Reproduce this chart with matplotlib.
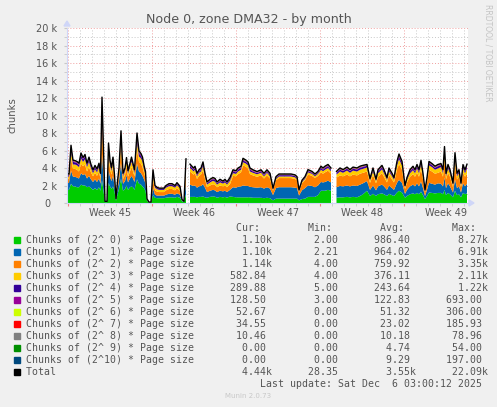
import numpy as np
import matplotlib.pyplot as plt
from matplotlib.patches import Rectangle

nan = np.nan

# hours since the start of the graph window
hours = [
    0, 4, 8, 12, 16, 20, 24, 28, 32, 36,
    40, 44, 48, 52, 56, 60, 64, 67, 70, 73,
    76, 80, 83, 86, 89, 92, 95, 98, 101, 104,
    108, 112, 116, 119, 122, 126, 129, 132, 135, 140,
    144, 148, 151, 154, 157, 160, 164, 168, 172, 176,
    180, 184, 188, 194, 198, 204, 210, 216, 220, 226,
    230, 234, 238, 241, 244, 246, 250, 253, 256, 260,
    264, 268, 272, 276, 280, 286, 292, 296, 300, 306,
    312, 316, 320, 326, 332, 338, 342, 348, 352, 358,
    362, 366, 372, 380, 388, 394, 400, 406, 412, 418,
    424, 432, 440, 448, 456, 460, 464, 470, 476, 482,
    490, 496, 502, 508, 512, 516, 522, 528, 531, 536,
    539, 546, 552, 560, 566, 572, 580, 586, 592, 600,
    606, 612, 618, 622, 630, 634, 640, 644, 650, 654,
    660, 664, 670, 673, 676, 680, 686, 692, 696, 700,
    704, 708, 712, 716, 720, 724, 730, 736, 742, 748,
    752, 755, 758, 762, 766, 772, 776, 780, 784, 788,
    792, 796, 800,
]

# chunk counts, in thousands
c0 = [
    1.5, 1.5, 2.2, 1.9, 1.9, 1.8, 1.8, 2.1, 2.0, 2.0,
    1.8, 1.9, 1.7, 1.5, 1.7, 1.5, 1.8, 1.4, 2.6, 1.4,
    0.1, 0.1, 2.3, 1.9, 1.6, 1.9, 1.3, 0.25, 1.0, 1.6,
    2.8, 1.4, 1.6, 2.0, 1.5, 1.8, 1.9, 1.8, 1.5, 2.7,
    2.2, 2.1, 1.9, 1.7, 1.4, 0.25, 0.05, 0.05, 0.9, 0.6,
    0.55, 0.55, 0.55, 0.55, 0.6, 0.65, 0.65, 0.6, 0.7, 0.6,
    0.2, 0.1, 1.0, nan, nan, 0.7, 0.7, 0.7, 0.7, 0.65,
    0.7, 0.7, 0.75, 0.65, 0.6, 0.7, 0.75, 0.72, 0.6, 0.7,
    0.65, 0.7, 0.6, 0.75, 0.7, 0.65, 0.65, 0.65, 0.65, 0.65,
    0.65, 0.65, 0.6, 0.6, 0.6, 0.55, 0.6, 0.55, 0.3, 0.5,
    0.5, 0.5, 0.5, 0.5, 0.5, 0.5, 0.3, 0.45, 0.5, 0.7,
    0.7, 0.7, 0.9, 1.4, 1.4, 1.4, 1.5, 1.4, nan, nan,
    0.6, 0.65, 0.65, 0.7, 0.65, 0.7, 0.65, 0.8, 1.0, 1.4,
    0.8, 1.05, 0.8, 1.0, 1.1, 1.0, 0.8, 1.05, 0.9, 0.8,
    1.2, 1.4, 1.2, 0.9, 0.6, 0.8, 1.0, 1.1, 1.0, 1.15,
    1.0, 1.3, 0.9, 0.45, 0.8, 1.2, 1.15, 1.1, 1.15, 1.15,
    1.0, 1.5, 0.9, 1.15, 1.0, 0.65, 1.4, 0.9, 1.0, 0.65,
    1.15, 1.0, 1.1,
]
c1 = [
    0.8, 0.8, 1.5, 1.1, 1.1, 1.1, 1.0, 1.3, 1.2, 1.3,
    1.0, 1.2, 1.0, 0.9, 1.0, 0.9, 1.0, 0.8, 3.0, 1.5,
    0.04, 0.04, 1.5, 1.1, 0.9, 1.2, 0.7, 0.1, 0.6, 0.9,
    1.8, 0.8, 0.9, 1.2, 0.85, 1.0, 1.2, 1.0, 0.9, 1.8,
    1.4, 1.3, 1.2, 1.0, 0.85, 0.1, 0.02, 0.02, 0.8, 0.35,
    0.3, 0.3, 0.3, 0.3, 0.35, 0.4, 0.4, 0.35, 0.4, 0.35,
    0.08, 0.04, 1.4, nan, nan, 1.4, 1.3, 1.25, 1.3, 1.1,
    1.2, 1.25, 1.4, 1.1, 0.65, 0.7, 0.75, 0.72, 0.65, 0.7,
    0.68, 0.7, 0.65, 0.75, 1.1, 1.1, 1.2, 1.25, 1.35, 1.3,
    1.3, 1.2, 1.2, 1.15, 1.2, 1.1, 1.2, 1.1, 0.6, 1.2,
    1.3, 1.3, 1.3, 1.3, 1.25, 1.2, 0.55, 1.0, 1.2, 1.3,
    1.25, 1.1, 1.1, 1.0, 0.95, 1.0, 1.05, 0.95, nan, nan,
    1.2, 1.3, 1.25, 1.3, 1.25, 1.3, 1.3, 1.3, 1.25, 1.1,
    0.7, 0.95, 0.65, 0.9, 1.0, 0.9, 0.7, 0.95, 0.8, 0.7,
    1.1, 1.25, 1.1, 0.8, 0.45, 0.7, 0.9, 1.0, 0.9, 1.1,
    0.9, 1.15, 0.8, 0.35, 0.7, 1.1, 1.05, 1.0, 1.1, 1.05,
    0.9, 1.4, 0.8, 1.1, 0.9, 0.55, 1.3, 0.8, 0.9, 0.55,
    1.1, 0.9, 1.1,
]
c2 = [
    0.5, 0.45, 1.4, 0.9, 0.9, 0.9, 0.8, 1.1, 1.0, 1.1,
    0.8, 1.0, 0.8, 0.65, 0.75, 0.7, 0.8, 0.55, 3.3, 1.6,
    0.02, 0.02, 1.4, 0.9, 0.75, 1.0, 0.55, 0.06, 0.4, 0.75,
    1.7, 0.55, 0.7, 1.0, 0.65, 0.8, 1.0, 0.8, 0.65, 1.6,
    1.1, 1.1, 1.0, 0.75, 0.65, 0.06, 0.01, 0.01, 1.0, 0.5,
    0.45, 0.4, 0.4, 0.4, 0.5, 0.55, 0.55, 0.5, 0.6, 0.45,
    0.05, 0.02, 1.5, nan, nan, 1.5, 1.4, 1.3, 1.4, 1.0,
    1.2, 1.3, 1.6, 1.0, 0.55, 0.6, 0.65, 0.62, 0.55, 0.6,
    0.57, 0.6, 0.55, 0.65, 1.3, 1.3, 1.45, 1.6, 2.3, 2.2,
    2.0, 1.45, 1.35, 1.25, 1.35, 1.15, 1.35, 1.15, 0.5, 0.9,
    1.05, 1.05, 1.05, 1.05, 1.0, 0.9, 0.4, 0.8, 0.9, 1.25,
    1.15, 1.05, 1.1, 1.1, 1.0, 1.1, 1.15, 1.0, nan, nan,
    1.1, 1.2, 1.15, 1.25, 1.15, 1.25, 1.2, 1.25, 1.2, 1.1,
    0.8, 1.2, 0.8, 1.1, 1.3, 1.1, 0.85, 1.2, 1.0, 0.85,
    1.5, 1.8, 1.5, 1.0, 0.55, 0.85, 1.1, 1.2, 1.1, 1.2,
    1.1, 1.4, 1.0, 0.4, 0.85, 1.5, 1.4, 1.25, 1.2, 1.4,
    1.1, 2.0, 1.0, 1.2, 1.1, 0.6, 1.8, 1.0, 1.1, 0.6,
    1.2, 1.1, 1.14,
]
c3 = [
    0.3, 0.25, 0.7, 0.5, 0.5, 0.5, 0.5, 0.6, 0.5, 0.6,
    0.5, 0.6, 0.45, 0.35, 0.4, 0.4, 0.5, 0.3, 0.8, 0.5,
    0.01, 0.01, 0.7, 0.5, 0.4, 0.6, 0.3, 0.03, 0.2, 0.4,
    0.8, 0.3, 0.4, 0.5, 0.35, 0.5, 0.6, 0.5, 0.35, 0.8,
    0.6, 0.6, 0.6, 0.4, 0.35, 0.03, 0.01, 0.01, 0.5, 0.3,
    0.28, 0.25, 0.25, 0.25, 0.3, 0.32, 0.32, 0.3, 0.33, 0.28,
    0.03, 0.01, 0.6, nan, nan, 0.4, 0.4, 0.35, 0.4, 0.3,
    0.35, 0.35, 0.45, 0.3, 0.3, 0.35, 0.38, 0.37, 0.3, 0.35,
    0.32, 0.35, 0.3, 0.38, 0.3, 0.28, 0.3, 0.3, 0.35, 0.35,
    0.35, 0.3, 0.3, 0.28, 0.3, 0.25, 0.3, 0.25, 0.12, 0.15,
    0.18, 0.18, 0.18, 0.18, 0.18, 0.15, 0.1, 0.15, 0.15, 0.25,
    0.23, 0.2, 0.23, 0.3, 0.28, 0.3, 0.3, 0.28, nan, nan,
    0.35, 0.45, 0.4, 0.45, 0.4, 0.45, 0.45, 0.45, 0.45, 0.45,
    0.25, 0.4, 0.25, 0.4, 0.45, 0.4, 0.3, 0.4, 0.35, 0.3,
    0.5, 0.55, 0.5, 0.35, 0.2, 0.3, 0.4, 0.45, 0.4, 0.5,
    0.4, 0.55, 0.35, 0.14, 0.3, 0.5, 0.5, 0.45, 0.5, 0.5,
    0.4, 0.7, 0.35, 0.5, 0.4, 0.25, 0.6, 0.35, 0.4, 0.25,
    0.5, 0.4, 0.58,
]
c4 = [
    0.15, 0.15, 0.4, 0.3, 0.25, 0.25, 0.25, 0.35, 0.3, 0.3,
    0.25, 0.3, 0.25, 0.2, 0.25, 0.2, 0.25, 0.15, 1.0, 0.5,
    0.01, 0.01, 0.5, 0.3, 0.2, 0.3, 0.15, 0.02, 0.12, 0.2,
    0.5, 0.15, 0.2, 0.3, 0.2, 0.25, 0.3, 0.25, 0.2, 0.5,
    0.35, 0.3, 0.3, 0.25, 0.2, 0.02, 0.01, 0.01, 0.35, 0.15,
    0.14, 0.13, 0.13, 0.13, 0.15, 0.17, 0.17, 0.15, 0.17, 0.14,
    0.02, 0.01, 0.3, nan, nan, 0.25, 0.2, 0.2, 0.2, 0.15,
    0.15, 0.2, 0.25, 0.15, 0.15, 0.18, 0.2, 0.2, 0.15, 0.18,
    0.16, 0.18, 0.15, 0.2, 0.2, 0.18, 0.2, 0.2, 0.2, 0.2,
    0.2, 0.2, 0.15, 0.15, 0.15, 0.15, 0.15, 0.15, 0.1, 0.12,
    0.15, 0.15, 0.15, 0.15, 0.15, 0.12, 0.08, 0.1, 0.12, 0.15,
    0.12, 0.12, 0.12, 0.2, 0.18, 0.2, 0.2, 0.18, nan, nan,
    0.2, 0.22, 0.2, 0.22, 0.2, 0.22, 0.22, 0.22, 0.22, 0.2,
    0.12, 0.2, 0.12, 0.2, 0.22, 0.2, 0.13, 0.2, 0.17, 0.13,
    0.25, 0.3, 0.25, 0.17, 0.1, 0.13, 0.2, 0.22, 0.2, 0.25,
    0.2, 0.25, 0.17, 0.08, 0.13, 0.25, 0.22, 0.22, 0.25, 0.22,
    0.2, 0.4, 0.17, 0.25, 0.2, 0.12, 0.3, 0.17, 0.2, 0.12,
    0.25, 0.2, 0.29,
]
c5 = [
    0.05, 0.05, 0.2, 0.1, 0.1, 0.1, 0.1, 0.15, 0.1, 0.15,
    0.1, 0.15, 0.1, 0.1, 0.1, 0.1, 0.1, 0.1, 0.6, 0.3,
    0.01, 0.01, 0.25, 0.1, 0.1, 0.15, 0.1, 0.01, 0.06, 0.1,
    0.3, 0.1, 0.1, 0.1, 0.05, 0.1, 0.15, 0.1, 0.1, 0.25,
    0.15, 0.15, 0.15, 0.1, 0.05, 0.01, 0.0, 0.0, 0.15, 0.05,
    0.04, 0.04, 0.04, 0.04, 0.05, 0.06, 0.06, 0.05, 0.06, 0.05,
    0.01, 0.01, 0.15, nan, nan, 0.1, 0.1, 0.1, 0.1, 0.1,
    0.1, 0.1, 0.15, 0.1, 0.07, 0.09, 0.09, 0.09, 0.07, 0.09,
    0.07, 0.09, 0.07, 0.09, 0.1, 0.09, 0.1, 0.1, 0.1, 0.1,
    0.1, 0.1, 0.1, 0.07, 0.1, 0.1, 0.1, 0.1, 0.05, 0.05,
    0.05, 0.05, 0.05, 0.05, 0.05, 0.05, 0.04, 0.05, 0.05, 0.07,
    0.07, 0.05, 0.07, 0.1, 0.09, 0.1, 0.1, 0.09, nan, nan,
    0.07, 0.08, 0.07, 0.08, 0.07, 0.08, 0.08, 0.08, 0.08, 0.05,
    0.05, 0.1, 0.05, 0.1, 0.1, 0.1, 0.06, 0.1, 0.08, 0.06,
    0.1, 0.15, 0.1, 0.08, 0.05, 0.06, 0.1, 0.1, 0.1, 0.1,
    0.1, 0.12, 0.08, 0.04, 0.06, 0.1, 0.08, 0.08, 0.1, 0.08,
    0.1, 0.2, 0.08, 0.1, 0.1, 0.05, 0.15, 0.08, 0.1, 0.05,
    0.1, 0.1, 0.13,
]
c6 = [
    0.05, 0.05, 0.08, 0.05, 0.05, 0.05, 0.05, 0.06, 0.05, 0.05,
    0.05, 0.05, 0.05, 0.05, 0.05, 0.05, 0.05, 0.05, 0.3, 0.08,
    0.0, 0.0, 0.08, 0.05, 0.05, 0.05, 0.05, 0.01, 0.04, 0.05,
    0.15, 0.05, 0.05, 0.05, 0.05, 0.05, 0.05, 0.05, 0.05, 0.15,
    0.08, 0.05, 0.05, 0.05, 0.05, 0.01, 0.0, 0.0, 0.05, 0.03,
    0.03, 0.02, 0.02, 0.02, 0.03, 0.03, 0.03, 0.03, 0.03, 0.03,
    0.01, 0.0, 0.05, nan, nan, 0.05, 0.05, 0.05, 0.05, 0.05,
    0.05, 0.05, 0.05, 0.05, 0.05, 0.05, 0.05, 0.05, 0.05, 0.05,
    0.03, 0.05, 0.05, 0.05, 0.05, 0.05, 0.05, 0.05, 0.08, 0.05,
    0.05, 0.05, 0.05, 0.05, 0.05, 0.05, 0.05, 0.05, 0.02, 0.05,
    0.04, 0.04, 0.04, 0.04, 0.04, 0.05, 0.02, 0.03, 0.05, 0.05,
    0.05, 0.05, 0.05, 0.05, 0.05, 0.05, 0.05, 0.05, nan, nan,
    0.05, 0.05, 0.05, 0.05, 0.05, 0.05, 0.05, 0.05, 0.05, 0.05,
    0.05, 0.05, 0.03, 0.05, 0.06, 0.05, 0.03, 0.05, 0.05, 0.03,
    0.05, 0.05, 0.05, 0.05, 0.03, 0.03, 0.05, 0.06, 0.05, 0.05,
    0.05, 0.05, 0.05, 0.02, 0.03, 0.05, 0.05, 0.05, 0.05, 0.05,
    0.05, 0.1, 0.05, 0.05, 0.05, 0.03, 0.08, 0.05, 0.05, 0.03,
    0.05, 0.05, 0.05,
]
c7 = [
    0.02, 0.02, 0.04, 0.02, 0.02, 0.02, 0.02, 0.03, 0.02, 0.02,
    0.02, 0.02, 0.02, 0.02, 0.02, 0.02, 0.02, 0.02, 0.2, 0.05,
    0.0, 0.0, 0.04, 0.02, 0.02, 0.02, 0.02, 0.0, 0.02, 0.02,
    0.08, 0.02, 0.02, 0.02, 0.02, 0.02, 0.02, 0.02, 0.02, 0.08,
    0.03, 0.02, 0.02, 0.02, 0.02, 0.0, 0.0, 0.0, 0.02, 0.01,
    0.01, 0.01, 0.01, 0.01, 0.01, 0.01, 0.01, 0.01, 0.01, 0.01,
    0.0, 0.0, 0.02, nan, nan, 0.02, 0.02, 0.02, 0.02, 0.02,
    0.02, 0.02, 0.02, 0.02, 0.02, 0.02, 0.02, 0.02, 0.02, 0.02,
    0.01, 0.02, 0.02, 0.02, 0.02, 0.02, 0.02, 0.02, 0.03, 0.02,
    0.02, 0.02, 0.02, 0.02, 0.02, 0.02, 0.02, 0.02, 0.01, 0.02,
    0.02, 0.02, 0.02, 0.02, 0.02, 0.02, 0.01, 0.01, 0.02, 0.02,
    0.02, 0.02, 0.02, 0.03, 0.03, 0.03, 0.03, 0.02, nan, nan,
    0.02, 0.03, 0.02, 0.03, 0.02, 0.03, 0.03, 0.03, 0.03, 0.03,
    0.02, 0.03, 0.02, 0.03, 0.04, 0.03, 0.02, 0.03, 0.03, 0.02,
    0.03, 0.05, 0.03, 0.02, 0.01, 0.02, 0.03, 0.04, 0.03, 0.03,
    0.03, 0.03, 0.02, 0.01, 0.02, 0.03, 0.03, 0.03, 0.03, 0.03,
    0.03, 0.06, 0.02, 0.03, 0.03, 0.01, 0.05, 0.03, 0.03, 0.01,
    0.03, 0.03, 0.035,
]
c8 = [
    0.01, 0.01, 0.02, 0.01, 0.01, 0.01, 0.01, 0.01, 0.01, 0.01,
    0.01, 0.01, 0.01, 0.01, 0.01, 0.01, 0.01, 0.01, 0.1, 0.03,
    0.0, 0.0, 0.02, 0.01, 0.01, 0.01, 0.01, 0.0, 0.01, 0.01,
    0.04, 0.01, 0.01, 0.01, 0.01, 0.01, 0.01, 0.01, 0.01, 0.04,
    0.02, 0.01, 0.01, 0.01, 0.01, 0.0, 0.0, 0.0, 0.01, 0.005,
    0.0, 0.0, 0.0, 0.0, 0.005, 0.01, 0.01, 0.005, 0.01, 0.0,
    0.0, 0.0, 0.01, nan, nan, 0.01, 0.01, 0.01, 0.01, 0.01,
    0.01, 0.01, 0.01, 0.01, 0.005, 0.005, 0.005, 0.005, 0.005, 0.005,
    0.005, 0.005, 0.005, 0.005, 0.01, 0.01, 0.01, 0.01, 0.02, 0.01,
    0.01, 0.01, 0.01, 0.01, 0.01, 0.01, 0.01, 0.01, 0.0, 0.01,
    0.01, 0.01, 0.01, 0.01, 0.01, 0.01, 0.0, 0.005, 0.01, 0.01,
    0.01, 0.01, 0.01, 0.01, 0.01, 0.01, 0.01, 0.01, nan, nan,
    0.01, 0.01, 0.01, 0.01, 0.01, 0.01, 0.01, 0.01, 0.01, 0.01,
    0.005, 0.01, 0.0, 0.01, 0.015, 0.01, 0.005, 0.01, 0.01, 0.005,
    0.015, 0.02, 0.015, 0.01, 0.005, 0.005, 0.01, 0.015, 0.01, 0.01,
    0.01, 0.01, 0.005, 0.0, 0.005, 0.01, 0.01, 0.01, 0.01, 0.01,
    0.01, 0.03, 0.005, 0.01, 0.01, 0.005, 0.03, 0.005, 0.01, 0.005,
    0.01, 0.01, 0.01,
]
c9 = [
    0.005, 0.005, 0.01, 0.005, 0.005, 0.005, 0.005, 0.005, 0.005, 0.005,
    0.005, 0.005, 0.005, 0.005, 0.005, 0.005, 0.005, 0.005, 0.05, 0.02,
    0.0, 0.0, 0.01, 0.005, 0.005, 0.005, 0.005, 0.0, 0.0, 0.005,
    0.02, 0.005, 0.005, 0.005, 0.005, 0.005, 0.005, 0.005, 0.005, 0.02,
    0.01, 0.005, 0.005, 0.005, 0.005, 0.0, 0.0, 0.0, 0.005, 0.0,
    0.0, 0.0, 0.0, 0.0, 0.0, 0.0, 0.0, 0.0, 0.0, 0.0,
    0.0, 0.0, 0.005, nan, nan, 0.005, 0.005, 0.005, 0.005, 0.005,
    0.005, 0.005, 0.005, 0.005, 0.005, 0.005, 0.005, 0.005, 0.005, 0.005,
    0.005, 0.005, 0.005, 0.005, 0.005, 0.005, 0.005, 0.005, 0.01, 0.005,
    0.005, 0.005, 0.005, 0.005, 0.005, 0.005, 0.005, 0.005, 0.0, 0.005,
    0.005, 0.005, 0.005, 0.005, 0.005, 0.005, 0.0, 0.005, 0.005, 0.005,
    0.005, 0.005, 0.005, 0.005, 0.005, 0.005, 0.005, 0.005, nan, nan,
    0.005, 0.005, 0.005, 0.005, 0.005, 0.005, 0.005, 0.005, 0.005, 0.005,
    0.0, 0.005, 0.0, 0.005, 0.005, 0.005, 0.0, 0.005, 0.005, 0.0,
    0.005, 0.01, 0.005, 0.005, 0.0, 0.0, 0.005, 0.005, 0.005, 0.005,
    0.005, 0.005, 0.005, 0.0, 0.0, 0.005, 0.005, 0.005, 0.005, 0.005,
    0.005, 0.02, 0.0, 0.005, 0.005, 0.0, 0.02, 0.0, 0.005, 0.0,
    0.0, 0.0, 0.0,
]
c10 = [
    0.01, 0.01, 0.05, 0.01, 0.01, 0.01, 0.01, 0.01, 0.01, 0.01,
    0.01, 0.01, 0.01, 0.01, 0.01, 0.01, 0.01, 0.01, 0.15, 0.02,
    0.0, 0.0, 0.05, 0.01, 0.01, 0.01, 0.01, 0.01, 0.01, 0.01,
    0.06, 0.01, 0.01, 0.01, 0.01, 0.01, 0.01, 0.01, 0.01, 0.06,
    0.01, 0.01, 0.01, 0.01, 0.01, 0.0, 0.0, 0.0, 0.01, 0.005,
    0.0, 0.0, 0.0, 0.0, 0.005, 0.01, 0.01, 0.005, 0.01, 0.0,
    0.0, 0.0, 0.01, nan, nan, 0.01, 0.01, 0.01, 0.01, 0.01,
    0.01, 0.01, 0.01, 0.01, 0.01, 0.01, 0.01, 0.01, 0.01, 0.01,
    0.005, 0.01, 0.01, 0.01, 0.01, 0.01, 0.01, 0.01, 0.02, 0.01,
    0.01, 0.01, 0.01, 0.01, 0.01, 0.01, 0.01, 0.01, 0.0, 0.01,
    0.01, 0.01, 0.01, 0.01, 0.01, 0.01, 0.0, 0.005, 0.01, 0.01,
    0.01, 0.01, 0.01, 0.01, 0.01, 0.01, 0.01, 0.01, nan, nan,
    0.01, 0.01, 0.01, 0.01, 0.01, 0.01, 0.01, 0.01, 0.01, 0.01,
    0.005, 0.01, 0.005, 0.01, 0.01, 0.01, 0.005, 0.01, 0.01, 0.005,
    0.01, 0.02, 0.01, 0.01, 0.005, 0.005, 0.01, 0.01, 0.01, 0.01,
    0.01, 0.01, 0.005, 0.0, 0.005, 0.01, 0.01, 0.01, 0.01, 0.01,
    0.01, 0.04, 0.005, 0.01, 0.01, 0.005, 0.02, 0.005, 0.01, 0.005,
    0.0, 0.0, 0.0,
]

week_names = ["Week 45", "Week 46", "Week 47", "Week 48", "Week 49"]
week_start_hours = [2, 170, 338, 506, 674]

labels = ["Chunks of (2^%2d) * Page size" % k for k in range(11)] + ["Total"]
colors = ["#00CC00", "#0066B3", "#FF8000", "#FFCC00", "#330099", "#990099",
          "#CCFF00", "#FF0000", "#808080", "#008F00", "#00487D", "#000000"]
cur = ["1.10k", "1.10k", "1.14k", "582.84", "289.88", "128.50", "52.67",
       "34.55", "10.46", "0.00", "0.00", "4.44k"]
mins = ["2.00", "2.21", "4.00", "4.00", "5.00", "3.00", "0.00", "0.00",
        "0.00", "0.00", "0.00", "28.35"]
avgs = ["986.40", "964.02", "759.92", "376.11", "243.64", "122.83", "51.32",
        "23.02", "10.18", "4.74", "9.29", "3.55k"]
maxs = ["8.27k", "6.91k", "3.35k", "2.11k", "1.22k", "693.00", "306.00",
        "185.93", "78.96", "54.00", "197.00", "22.09k"]

W, H = 497, 407
BG = "#F0F0F0"
FONT = "#555555"


def fx(px):
    return px / W


def fy(py):
    return 1 - py / H


def field(s):
    s = s if s.endswith("k") else s + " "
    return s.rjust(7)


series = np.array([c0, c1, c2, c3, c4, c5, c6, c7, c8, c9, c10])
total = series.sum(axis=0)

fig = plt.figure(figsize=(W / 100, H / 100), dpi=100, facecolor=BG)
ax = fig.add_axes([fx(67), fy(203), fx(468 - 67), (203 - 28) / H])
ax.set_facecolor("white")

ax.stackplot(hours, series, colors=colors[:11], linewidth=0, zorder=3)
ax.plot(hours, total, color="black", lw=1.0, zorder=4)

ax.set_xlim(0, 802)
ax.set_ylim(0, 20)

# grid
ax.set_yticks(range(0, 21, 2))
ax.set_yticks(range(1, 20, 2), minor=True)
ax.set_yticklabels(["0  "] + ["%d k" % v for v in range(2, 21, 2)])
ax.set_xticks(week_start_hours)
ax.set_xticks([h for h in range(2, 802, 24)], minor=True)
ax.set_xticklabels([])
ax.grid(which="minor", color="#c8c8c8", lw=0.7, ls=(0, (1, 2)), zorder=1)
ax.grid(which="major", color="#f0a0a0", lw=0.7, ls=(0, (1, 2)), zorder=2)
ax.tick_params(axis="y", which="both", length=2, colors="#c8c8c8",
               labelcolor=FONT, labelsize=7, pad=5)
ax.tick_params(axis="x", which="major", length=2, colors="#f08080")
ax.tick_params(axis="x", which="minor", length=2, colors="#c8c8c8")

for s in ["top", "right"]:
    ax.spines[s].set_visible(False)
for s in ["left", "bottom"]:
    ax.spines[s].set_color("#CFD6F8")
    ax.spines[s].set_zorder(5)

for name, start in zip(week_names, week_start_hours):
    ax.text(start + 84, -0.057, name, transform=ax.get_xaxis_transform(),
            ha="center", va="center", fontsize=7, color=FONT)

# axis arrows
fig.patches.append(plt.Polygon([[fx(64), fy(26)], [fx(70), fy(26)], [fx(67), fy(21)]],
                               closed=True, color="#CFD6F8", transform=fig.transFigure))
fig.patches.append(plt.Polygon([[fx(469), fy(200)], [fx(469), fy(206)], [fx(474), fy(203)]],
                               closed=True, color="#CFD6F8", transform=fig.transFigure))

fig.text(0.5, fy(19), "Node 0, zone DMA32 - by month", ha="center", va="center",
         fontsize=9.1, color=FONT)
fig.text(fx(12), fy(115), "chunks", rotation=90, ha="center", va="center",
         fontsize=7.3, color=FONT)
fig.text(fx(488), fy(53), "RRDTOOL / TOBI OETIKER", rotation=270, ha="center",
         va="center", fontsize=5.5, color="#c4c4c4")

# legend
mono = "DejaVu Sans Mono"
fs = 7.1
fig.text(fx(26), fy(228), " " * 35 + "Cur:" + " " * 8 + "Min:" + " " * 8 + "Avg:" + " " * 8 + "Max:",
         family=mono, fontsize=fs, color=FONT, va="center")
for k in range(12):
    py = 240 + 12 * k
    fig.patches.append(Rectangle((fx(14), fy(py + 3)), 6 / W, 6 / H,
                                 color=colors[k], transform=fig.transFigure))
    row = labels[k].ljust(34) + field(cur[k]) + "     " + field(mins[k]) + \
        "     " + field(avgs[k]) + "     " + field(maxs[k])
    fig.text(fx(26), fy(py), row, family=mono, fontsize=fs, color=FONT, va="center")

fig.text(fx(482), fy(384), "Last update: Sat Dec  6 03:00:12 2025", family=mono,
         fontsize=fs, color=FONT, ha="right", va="center")
fig.text(fx(248), fy(396), "Munin 2.0.73", ha="center", va="center",
         fontsize=5, color="#c8c8c8")

fig.savefig("out.png", dpi=100, facecolor=BG)
